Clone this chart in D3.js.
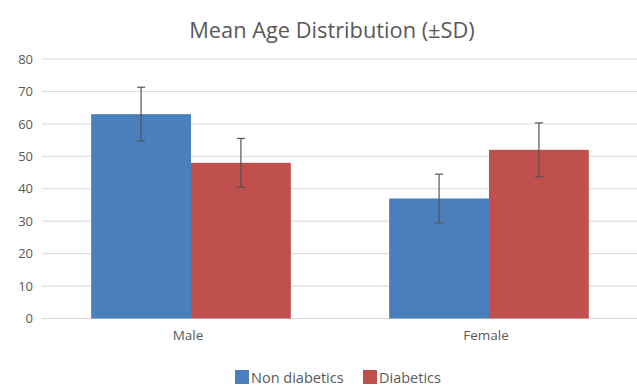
<!DOCTYPE html>
<html><head><meta charset="utf-8">
<script src="https://cdn.jsdelivr.net/npm/d3@7"></script>
<style>body{margin:0;background:#fff}svg{display:block}text{font-family:"Open Sans",sans-serif;fill:#595959}</style>
</head><body><svg id="c" width="637" height="385"></svg>
<script>
const categories = ["Male", "Female"];
const seriesNames = ["Non diabetics", "Diabetics"];
const nonDiabetics = [63, 37];
const diabetics = [48, 52];
const nonDiabeticsSD = [8.3, 7.5];
const diabeticsSD = [7.5, 8.3];
const yTicks = [0, 10, 20, 30, 40, 50, 60, 70, 80];
const colors = ["#4a7ebd", "#c0504d"];

const svg = d3.select("#c");
const x0 = d3.scaleBand().domain(categories).range([42, 638]).paddingInner(0.33).paddingOuter(0.165);
const x1 = d3.scaleBand().domain(seriesNames).range([0, x0.bandwidth()]);
const y = d3.scaleLinear().domain([0, 80]).range([318.5, 59]);

svg.append("g").selectAll("line").data(yTicks).join("line")
  .attr("x1", 42).attr("x2", 637).attr("y1", d => y(d)).attr("y2", d => y(d))
  .attr("stroke", "#d9d9d9").attr("stroke-width", 1);

const yAxis = d3.axisLeft(y).tickValues(yTicks).tickSize(0).tickPadding(9);
const ga = svg.append("g").attr("transform", "translate(42,0)").call(yAxis);
ga.select(".domain").remove();
ga.selectAll("text").attr("font-size", 13).style("fill", "#595959").style("font-family", "'Open Sans',sans-serif");

const data = categories.map((c, i) => ({c, vals: [
  {s: seriesNames[0], v: nonDiabetics[i], sd: nonDiabeticsSD[i], col: colors[0]},
  {s: seriesNames[1], v: diabetics[i], sd: diabeticsSD[i], col: colors[1]}]}));

const g = svg.append("g").selectAll("g").data(data).join("g")
  .attr("transform", d => `translate(${x0(d.c)},0)`);
g.selectAll("rect").data(d => d.vals).join("rect")
  .attr("x", d => x1(d.s)).attr("width", x1.bandwidth())
  .attr("y", d => y(d.v)).attr("height", d => y(0) - y(d.v))
  .attr("fill", d => d.col);
const eb = g.selectAll("g.eb").data(d => d.vals).join("g").attr("class", "eb")
  .attr("transform", d => `translate(${x1(d.s) + x1.bandwidth() / 2},0)`);
eb.append("line").attr("y1", d => y(d.v + d.sd)).attr("y2", d => y(d.v - d.sd))
  .attr("stroke", "#555").attr("stroke-width", 1.2);
eb.append("line").attr("x1", -4).attr("x2", 4).attr("y1", d => y(d.v + d.sd)).attr("y2", d => y(d.v + d.sd))
  .attr("stroke", "#555").attr("stroke-width", 1.2);
eb.append("line").attr("x1", -4).attr("x2", 4).attr("y1", d => y(d.v - d.sd)).attr("y2", d => y(d.v - d.sd))
  .attr("stroke", "#555").attr("stroke-width", 1.2);

const xAxis = d3.axisBottom(x0).tickSize(0).tickPadding(12);
const gx = svg.append("g").attr("transform", `translate(-3,${y(0)})`).call(xAxis);
gx.select(".domain").remove();
gx.selectAll("text").attr("font-size", 13.5).style("fill", "#595959").style("font-family", "'Open Sans',sans-serif");

svg.append("text").attr("x", 332).attr("y", 38).attr("text-anchor", "middle")
  .attr("font-size", 21.8).text("Mean Age Distribution (±SD)");

const legX = [235, 363];
const lg = svg.append("g").selectAll("g").data(seriesNames).join("g")
  .attr("transform", (d, i) => `translate(${legX[i]},370)`);
lg.append("rect").attr("width", 14).attr("height", 14).attr("fill", (d, i) => colors[i]);
lg.append("text").attr("x", 16).attr("y", 12.5).attr("font-size", 14.5).text(d => d);
</script></body></html>
